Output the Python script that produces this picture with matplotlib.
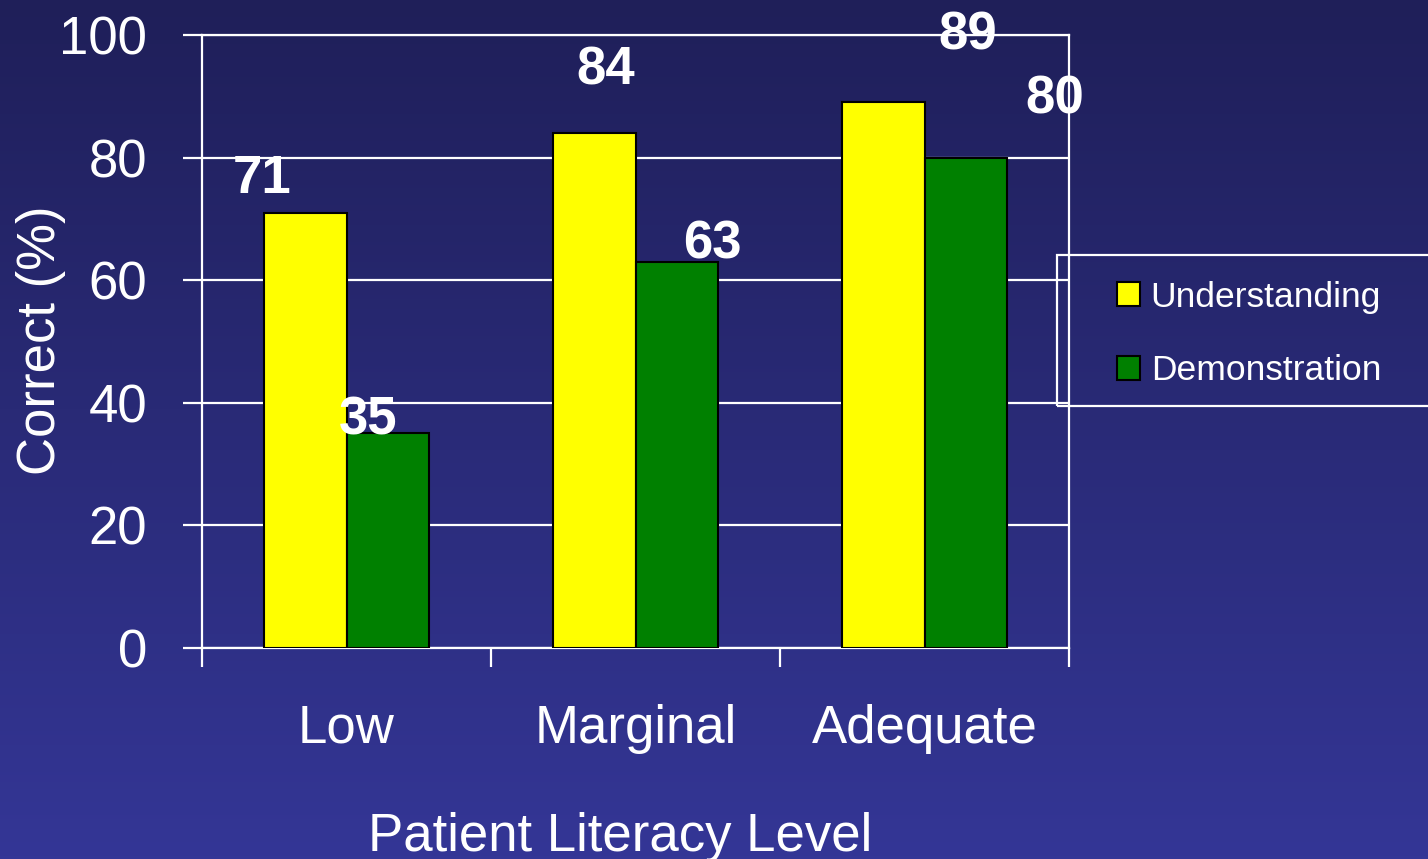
import matplotlib
matplotlib.use("Agg")
import matplotlib.pyplot as plt
import numpy as np
from matplotlib.patches import Rectangle
from matplotlib.colors import LinearSegmentedColormap

plt.rcParams['font.family'] = ['Liberation Sans', 'DejaVu Sans']

categories = ["Low", "Marginal", "Adequate"]
understanding = [71, 84, 89]
demonstration = [35, 63, 80]
series_names = ["Understanding", "Demonstration"]

# label offsets (pixels) from the top centre of each bar
understanding_offsets = [(-43, 34), (12, 63), (85, 67)]
demonstration_offsets = [(-20, 13), (35, 17), (89, 58)]

W, H = 1428, 859
fig = plt.figure(figsize=(W / 100, H / 100), dpi=100)

# navy gradient backdrop
bg = fig.add_axes([0, 0, 1, 1], zorder=-10)
cmap = LinearSegmentedColormap.from_list("navy", ["#1f1f59", "#343696"])
bg.imshow(np.linspace(0, 1, 256).reshape(-1, 1), aspect="auto", cmap=cmap,
          extent=[0, 1, 0, 1], origin="upper")
bg.axis("off")

ax = fig.add_axes([202 / W, 1 - 648 / H, (1069 - 202) / W, (648 - 35) / H])
ax.patch.set_alpha(0)

x = np.arange(len(categories))
width = 0.287
b1 = ax.bar(x - width / 2, understanding, width, color="#ffff00",
            edgecolor="black", linewidth=1.5, zorder=3, label=series_names[0])
b2 = ax.bar(x + width / 2, demonstration, width, color="#008000",
            edgecolor="black", linewidth=1.5, zorder=3, label=series_names[1])

for bars, vals, offs in [(b1, understanding, understanding_offsets),
                         (b2, demonstration, demonstration_offsets)]:
    for bar, v, (dx, dy) in zip(bars, vals, offs):
        ax.annotate(str(v), xy=(bar.get_x() + bar.get_width() / 2, v),
                    xytext=(dx, dy), textcoords="offset pixels",
                    ha="center", va="center", fontsize=38,
                    fontweight="bold", color="white", zorder=5,
                    annotation_clip=False)

ax.set_xlim(-0.5, 2.5)
ax.set_ylim(0, 100)
ax.set_yticks(range(0, 101, 20))
ax.yaxis.grid(True, color="white", linewidth=1.6, zorder=0)
ax.set_axisbelow(True)

ax.set_xticks(x)
ax.set_xticklabels(categories)
ax.set_xticks([-0.5, 0.5, 1.5, 2.5], minor=True)
ax.tick_params(axis="x", which="major", length=0, pad=40, labelsize=38,
               labelcolor="white")
ax.tick_params(axis="x", which="minor", length=13.5, width=1.6,
               color="white", direction="out")
ax.tick_params(axis="y", length=13.5, width=1.6, color="white", pad=26,
               labelsize=38, labelcolor="white")

for side in ["left", "right", "bottom", "top"]:
    ax.spines[side].set_color("white")
    ax.spines[side].set_linewidth(1.6)

fig.text(41 / W, 1 - 340 / H, "Correct (%)", rotation=90, ha="center",
         va="center", fontsize=38, color="white")
fig.text(620 / W, 1 - 851 / H, "Patient Literacy Level", ha="center",
         va="baseline", fontsize=38, color="white")

# legend frame runs off the right edge
fig.patches.append(Rectangle((1057 / W, 1 - 406 / H), (1440 - 1057) / W,
                             (406 - 255) / H, transform=fig.transFigure,
                             fill=False, edgecolor="white", linewidth=1.6))
leg = fig.legend(handles=[b1, b2], loc="center left",
                 bbox_to_anchor=(1117 / W, 1 - 334 / H), frameon=False,
                 fontsize=25.5, handlelength=0.65, handleheight=0.65,
                 handletextpad=0.3, labelspacing=1.15, borderpad=0,
                 borderaxespad=0)
for t in leg.get_texts():
    t.set_color("white")

fig.savefig("out.png", dpi=100)
